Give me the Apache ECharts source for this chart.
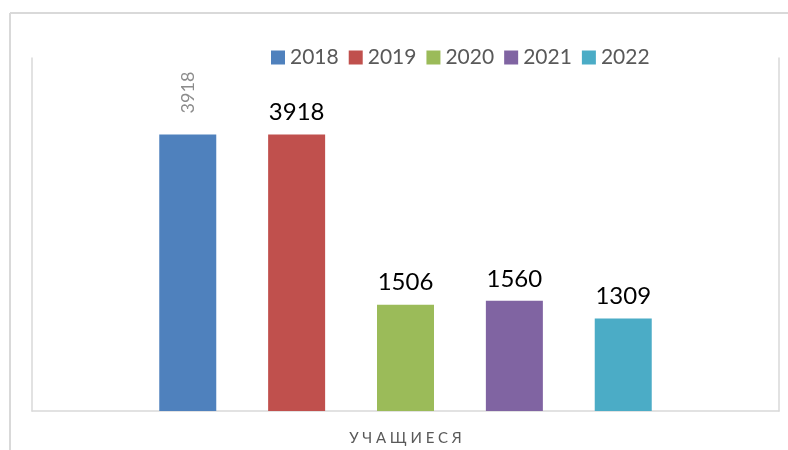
<!DOCTYPE html>
<html>
<head>
<meta charset="utf-8">
<script src="https://cdn.jsdelivr.net/npm/echarts@6/dist/echarts.min.js"></script>
<style>
  * { margin: 0; padding: 0; }
  body { background: #fff; }
</style>
</head>
<body>
<div id="main" style="width: 788px;height: 450px;"></div>
<script>
  // данные
  var categories = ['УЧАЩИЕСЯ'];
  var years = ['2018', '2019', '2020', '2021', '2022'];
  var values = [3918, 3918, 1506, 1560, 1309];
  var colors = ['#4f81bd', '#c0504d', '#9bbb59', '#8064a2', '#4bacc6'];

  var font = 'Lato, "Open Sans", sans-serif';
  var chart = echarts.init(document.getElementById('main'));

  var series = years.map(function (y, i) {
    var label = {
      show: true,
      position: 'top',
      distance: 10,
      color: '#000',
      fontSize: 24,
      fontFamily: font
    };
    if (i === 0) {
      // первая подпись повернута и серая
      label = {
        show: true,
        position: 'top',
        rotate: 90,
        align: 'left',
        verticalAlign: 'middle',
        distance: 16,
        offset: [5, 0],
        color: '#8c8c8c',
        fontSize: 18,
        fontFamily: font
      };
    }
    return {
      name: y,
      type: 'bar',
      barWidth: 57,
      barGap: '91%',
      itemStyle: { color: colors[i] },
      label: label,
      data: [values[i]]
    };
  });

  chart.setOption({
    animation: false,
    textStyle: { fontFamily: font },
    legend: {
      data: years,
      left: 266,
      top: 42,
      itemWidth: 14,
      itemHeight: 14,
      itemGap: 10,
      icon: 'rect',
      textStyle: { color: '#595959', fontSize: 21, fontFamily: font }
    },
    grid: { left: 32, right: 9, top: 58, bottom: 39 },
    xAxis: {
      type: 'category',
      data: categories,
      axisLine: { lineStyle: { color: '#d9d9d9', width: 1.5 } },
      axisTick: { show: false },
      axisLabel: {
        color: '#595959',
        fontSize: 15,
        margin: 20,
        formatter: function (v) { return v.split('').join('\u2009\u2009'); }
      }
    },
    yAxis: [
      {
        type: 'value', min: 0, max: 5000,
        axisLine: { show: true, lineStyle: { color: '#d9d9d9', width: 1.5 } },
        axisLabel: { show: false }, axisTick: { show: false },
        splitLine: { show: false }
      },
      {
        type: 'value', min: 0, max: 5000, position: 'right',
        axisLine: { show: true, lineStyle: { color: '#d9d9d9', width: 1.5 } },
        axisLabel: { show: false }, axisTick: { show: false },
        splitLine: { show: false }
      }
    ],
    graphic: [
      { type: 'line', shape: { x1: 10, y1: 13, x2: 788, y2: 13 }, style: { stroke: '#d9d9d9', lineWidth: 2 } },
      { type: 'line', shape: { x1: 10, y1: 13, x2: 10, y2: 450 }, style: { stroke: '#d9d9d9', lineWidth: 2 } }
    ],
    series: series
  });
</script>
</body>
</html>
